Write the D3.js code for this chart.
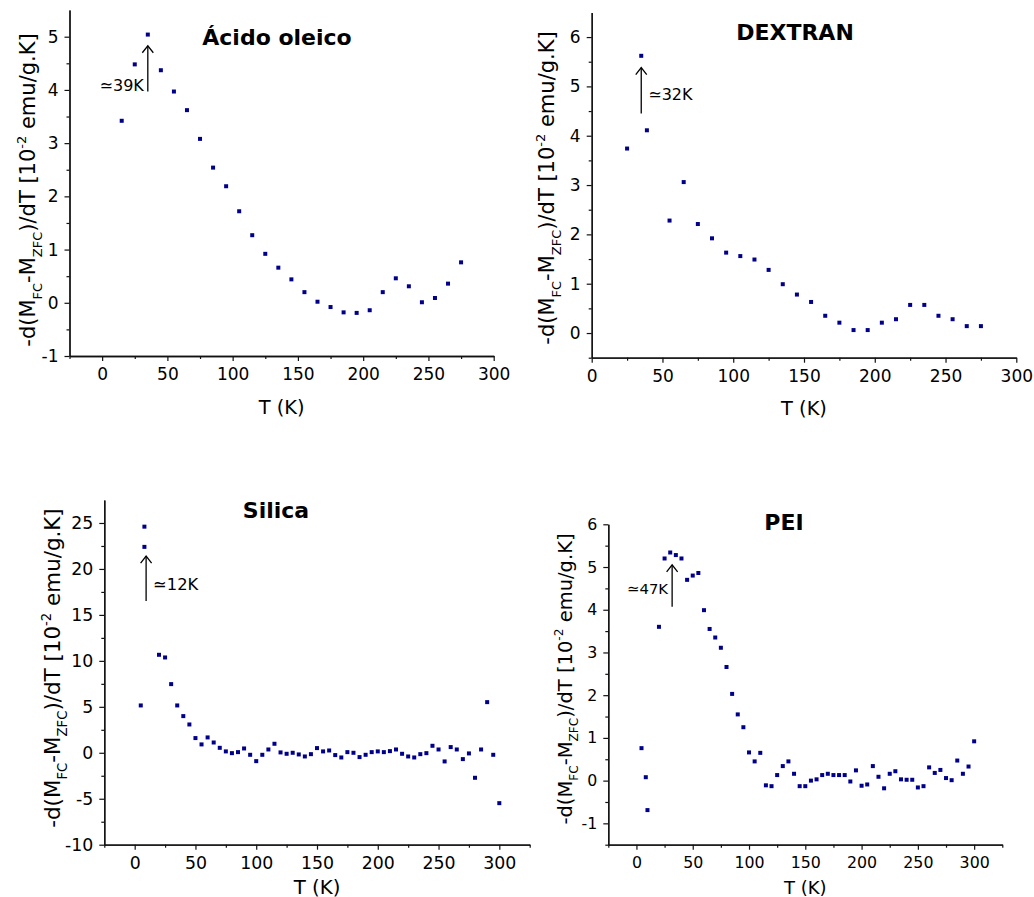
<!DOCTYPE html>
<html><head><meta charset="utf-8">
<script src="https://cdn.jsdelivr.net/npm/d3@7"></script>
<style>
body{margin:0;background:#fff}
svg text{font-family:"DejaVu Sans",Verdana,sans-serif;fill:#000}
</style>
</head><body>
<svg id="chart" width="1034" height="897"></svg>
<script>
// ---------------- data ----------------
const titles = ["Ácido oleico", "DEXTRAN", "Silica", "PEI"];

const oleicoT = [15,25,35,45,55,65,75,85,95,105,115,125,135,145,155,165,175,185,195,205,215,225,235,245,255,265,275];
const oleicoV = [3.42,4.48,5.04,4.37,3.97,3.62,3.08,2.54,2.19,1.72,1.27,0.92,0.66,0.44,0.20,0.02,-0.08,-0.18,-0.19,-0.14,0.20,0.46,0.31,0.01,0.09,0.36,0.76];

const dextranT = [25,35,39,55,65,75,85,95,105,115,125,135,145,155,165,175,185,195,205,215,225,235,245,255,265,275];
const dextranV = [3.74,5.62,4.11,2.28,3.06,2.21,1.92,1.63,1.56,1.49,1.28,0.99,0.78,0.63,0.35,0.21,0.06,0.06,0.21,0.28,0.57,0.57,0.35,0.28,0.14,0.14];

const silicaT = [5,8,8,20,25,30,35,40,45,50,55,60,65,70,75,80,85,90,95,100,105,110,115,120,125,130,135,140,145,150,155,160,165,170,175,180,185,190,195,200,205,210,215,220,225,230,235,240,245,250,255,260,265,270,275,280,285,290,295,300];
const silicaV = [5.15,24.6,22.4,10.66,10.37,7.47,5.15,3.99,3.08,1.60,0.91,1.67,1.12,0.54,0.15,-0.04,0.07,0.47,-0.22,-0.91,-0.22,0.36,0.98,0.04,-0.11,0,-0.18,-0.40,-0.15,0.51,0.15,0.25,-0.25,-0.51,0.07,0,-0.47,-0.22,0.07,0.15,0.07,0.18,0.36,-0.11,-0.40,-0.51,-0.15,-0.04,0.76,0.36,-0.94,0.62,0.36,-0.69,-0.07,-2.72,0.36,5.51,-0.22,-5.48];

const peiT = [4.5,8.3,9.8,20,25,30,35,40,45,50,55,60,65,70,75,80,85,90,95,100,105,110,115,120,125,130,135,140,145,150,155,160,165,170,175,180,185,190,195,200,205,210,215,220,225,230,235,240,245,250,255,260,265,270,275,280,285,290,295,300];
const peiV = [0.76,0.08,-0.69,3.60,5.20,5.34,5.28,5.20,4.70,4.80,4.86,3.99,3.55,3.35,3.11,2.66,2.03,1.55,1.25,0.66,0.45,0.65,-0.11,-0.13,0.13,0.34,0.45,0.16,-0.13,-0.13,0,0.03,0.13,0.16,0.13,0.13,0.13,-0.02,0.24,-0.12,-0.09,0.34,0.09,-0.18,0.16,0.22,0.03,0.02,0.02,-0.16,-0.13,0.31,0.18,0.25,0.06,0.01,0.47,0.16,0.33,0.92];

// tick labels
const xTicks = [0,50,100,150,200,250,300];
const xMinorTicks = [-25,25,75,125,175,225,275,325];
const yTicksOleico = [-1,0,1,2,3,4,5];
const yMinorOleico = [-0.5,0.5,1.5,2.5,3.5,4.5];
const yTicksDextran = [0,1,2,3,4,5,6];
const yMinorDextran = [-0.5,0.5,1.5,2.5,3.5,4.5,5.5];
const yTicksSilica = [-10,-5,0,5,10,15,20,25];
const yMinorSilica = [-7.5,-2.5,2.5,7.5,12.5,17.5,22.5];
const yTicksPei = [-1,0,1,2,3,4,5,6];
const yMinorPei = [-1.5,-0.5,0.5,1.5,2.5,3.5,4.5,5.5];

// peak annotations: [T, arrow bottom, arrow top, label]
const peakOleico = [35, 3.97, 4.83, "\u224339K"];
const peakDextran = [35, 4.45, 5.38, "\u224332K"];
const peakSilica = [9.4, 16.5, 21.4, "\u224312K"];
const peakPei = [31.7, 4.07, 5.05, "\u224347K"];

// ---------------- layout ----------------
const panels = [
  {title:titles[0], T:oleicoT, V:oleicoV, xDom:[-25,300], yDom:[-1,5.5], px:[69.5,493.7], py:[356,10.1],
   yt:yTicksOleico, ym:yMinorOleico, peak:peakOleico, labelSide:"left", labelY:91,
   tPos:[277,37], xtPos:407, ytPos:[28,190], fs:1},
  {title:titles[1], T:dextranT, V:dextranV, xDom:[0,300], yDom:[-0.5,6.5], px:[591.7,1016.3], py:[357.7,12.4],
   yt:yTicksDextran, ym:yMinorDextran, peak:peakDextran, labelSide:"right", labelY:99.5,
   tPos:[795,32], xtPos:408, ytPos:[547,188], fs:1},
  {title:titles[2], T:silicaT, V:silicaV, xDom:[-25,325], yDom:[-10,27.5], px:[104.3,529.7], py:[844.7,500],
   yt:yTicksSilica, ym:yMinorSilica, peak:peakSilica, labelSide:"right", labelY:589.5,
   tPos:[276,510], xtPos:887, ytPos:[53,668], fs:1.02},
  {title:titles[3], T:peiT, V:peiV, xDom:[-25,325], yDom:[-1.5,6], px:[608.3,1002.3], py:[844.7,524.3],
   yt:yTicksPei, ym:yMinorPei, peak:peakPei, labelSide:"left", labelY:593.5,
   tPos:[784,522], xtPos:887, ytPos:[565,679], fs:0.93}
];

const svg = d3.select("#chart");
const markColor = "#00008b";
const fmt = d => String(d);

panels.forEach(p => {
  const g = svg.append("g");
  const x = d3.scaleLinear().domain(p.xDom).range(p.px);
  const y = d3.scaleLinear().domain(p.yDom).range(p.py);
  const tickFs = 17 * p.fs;

  // x axis
  g.append("g").attr("transform", `translate(0,${p.py[0]})`)
    .call(d3.axisBottom(x).tickValues(xTicks).tickSize(5).tickPadding(7).tickSizeOuter(0).tickFormat(fmt));
  g.append("g").attr("transform", `translate(0,${p.py[0]})`)
    .call(d3.axisBottom(x).tickValues(xMinorTicks.filter(v => v >= p.xDom[0] && v <= p.xDom[1])).tickSize(3).tickSizeOuter(0).tickFormat(""));
  // y axis
  g.append("g").attr("transform", `translate(${p.px[0]},0)`)
    .call(d3.axisLeft(y).tickValues(p.yt).tickSize(5).tickPadding(6).tickSizeOuter(0).tickFormat(fmt));
  g.append("g").attr("transform", `translate(${p.px[0]},0)`)
    .call(d3.axisLeft(y).tickValues(p.ym).tickSize(3).tickSizeOuter(0).tickFormat(""));

  g.selectAll(".domain").attr("stroke", "#111").attr("stroke-width", 1.3);
  g.selectAll(".tick line").attr("stroke", "#111").attr("stroke-width", 1.2);
  g.selectAll(".tick text").attr("font-size", tickFs).attr("font-family", "DejaVu Sans, Verdana, sans-serif").attr("fill", "#000");

  // points
  g.append("g").selectAll("rect").data(p.T.map((t, i) => [t, p.V[i]])).join("rect")
    .attr("x", d => x(d[0]) - 2).attr("y", d => y(d[1]) - 2)
    .attr("width", 4).attr("height", 4).attr("fill", markColor);

  // title
  g.append("text").attr("x", p.tPos[0]).attr("y", p.tPos[1]).attr("text-anchor", "middle")
    .attr("dominant-baseline", "central").attr("font-weight", "bold").attr("font-size", 22).text(p.title);

  // x axis title
  g.append("text").attr("x", (p.px[0] + p.px[1]) / 2).attr("y", p.xtPos).attr("text-anchor", "middle")
    .attr("dominant-baseline", "central").attr("font-size", 20 * p.fs * 0.97).text("T (K)");

  // y axis title with sub/superscripts
  const mf = 21 * p.fs, sf = 13 * p.fs;
  const yt = g.append("text").attr("transform", `translate(${p.ytPos[0] + mf * 0.35},${p.ytPos[1]}) rotate(-90)`)
    .attr("text-anchor", "middle").attr("font-size", mf);
  const parts = [["-d(M", 0], ["FC", 1], ["-M", 0], ["ZFC", 1], [")/dT [10", 0], ["-2", -1], [" emu/g.K]", 0]];
  let cur = 0;
  parts.forEach(([s, k]) => {
    const target = k === 1 ? mf * 0.3 : (k === -1 ? -mf * 0.45 : 0);
    yt.append("tspan").attr("dy", target - cur).attr("font-size", k === 0 ? mf : sf).text(s);
    cur = target;
  });

  // peak arrow
  const [pt, v0, v1, lab] = p.peak;
  const ax = x(pt), yb = y(v0), ytp = y(v1);
  g.append("line").attr("x1", ax).attr("x2", ax).attr("y1", yb).attr("y2", ytp)
    .attr("stroke", "#000").attr("stroke-width", 1.3);
  g.append("path").attr("d", `M${ax - 5.5},${ytp + 7}L${ax},${ytp}L${ax + 5.5},${ytp + 7}`)
    .attr("fill", "none").attr("stroke", "#000").attr("stroke-width", 1.3);
  g.append("text").attr("x", p.labelSide === "left" ? ax - 4 : ax + 7).attr("y", p.labelY)
    .attr("text-anchor", p.labelSide === "left" ? "end" : "start").attr("font-size", 16 * p.fs).text(lab);
});
</script>
</body></html>
